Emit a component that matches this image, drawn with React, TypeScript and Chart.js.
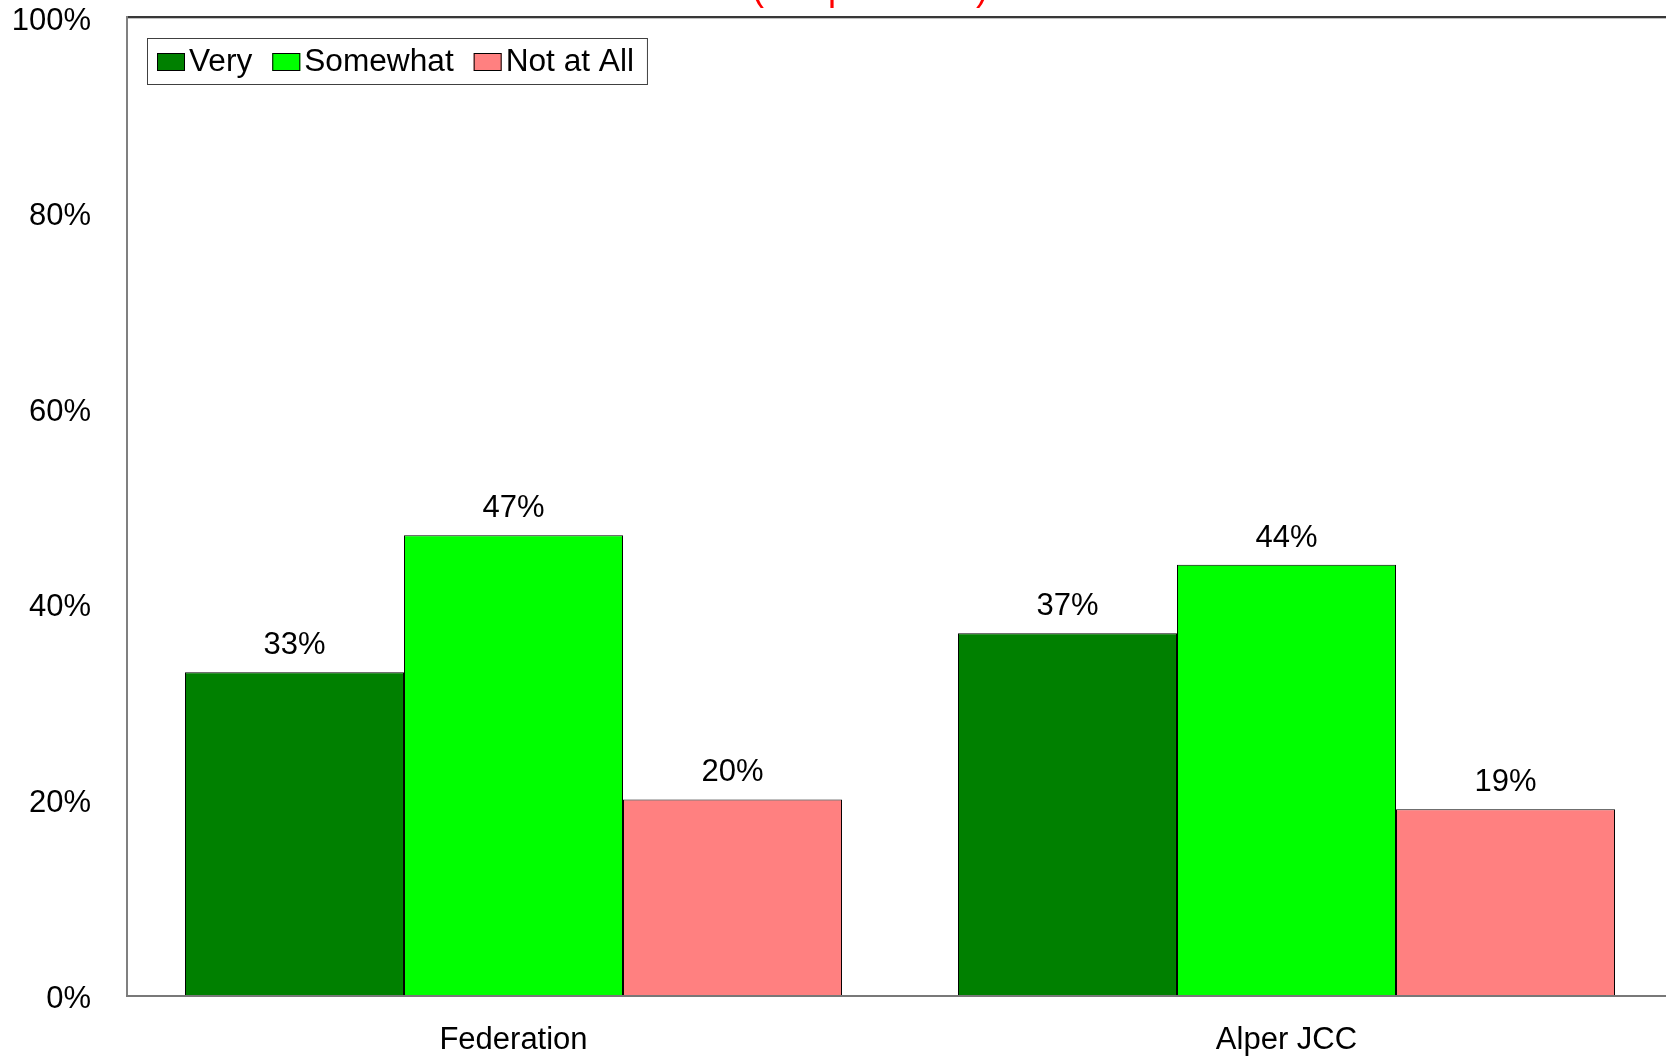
import React, { useEffect, useRef } from "react";
import { Chart, registerables } from "chart.js";

Chart.register(...registerables);

// ---- data ----
const categories = ["Federation", "Alper JCC"];
const seriesNames = ["Very", "Somewhat", "Not at All"];
const veryValues = [33, 37];
const somewhatValues = [47, 44];
const notAtAllValues = [20, 19];
const seriesColors = ["#008000", "#00FF00", "#FF8080"];
const yTickMin = 0;
const yTickMax = 100;
const yTickStep = 20;
const titleText = "(Respondents)";

const FONT = "'Liberation Sans', Arial, Helvetica, sans-serif";
const CANVAS_W = 1740;
const CANVAS_H = 1056;

const framePlugin = {
  id: "frame",
  afterDatasetsDraw(chart: any) {
    const { ctx, chartArea: a } = chart;
    ctx.save();
    // top border
    ctx.fillStyle = "#383838";
    ctx.fillRect(a.left - 1, a.top - 1, a.right - a.left + 1, 2);
    ctx.fillStyle = "#c0c0c0";
    ctx.fillRect(a.left + 1, a.top + 1, a.right - a.left, 1);
    // left border
    ctx.fillStyle = "#808080";
    ctx.fillRect(a.left - 1, a.top - 1, 2, a.bottom - a.top + 3);
    // bottom axis
    ctx.fillStyle = "#787878";
    ctx.fillRect(a.left - 1, a.bottom, a.right - a.left + 1, 2);
    ctx.restore();
  },
};

const labelPlugin = {
  id: "valueLabels",
  afterDatasetsDraw(chart: any) {
    const { ctx } = chart;
    ctx.save();
    ctx.font = `31px ${FONT}`;
    ctx.fillStyle = "#000000";
    ctx.textAlign = "center";
    ctx.textBaseline = "alphabetic";
    chart.data.datasets.forEach((ds: any, i: number) => {
      const meta = chart.getDatasetMeta(i);
      meta.data.forEach((el: any, j: number) => {
        ctx.fillText(`${ds.data[j]}%`, el.x, el.y - 18);
      });
    });
    ctx.restore();
  },
};

const LEGEND_XSCALE = 1.02;

const legendPlugin = {
  id: "boxLegend",
  afterDraw(chart: any) {
    const { ctx, chartArea: a } = chart;
    const x0 = a.left + 20;
    const y0 = a.top + 21;
    const boxH = 46;
    const sw = 28;
    const sh = 18;
    ctx.save();
    ctx.font = `31px ${FONT}`;
    const items = chart.data.datasets.map((ds: any) => ({
      label: ds.label,
      color: ds.backgroundColor,
      w: ctx.measureText(ds.label).width * LEGEND_XSCALE,
    }));
    let total = 10 + 13;
    items.forEach((it: any, i: number) => {
      total += sw + 4 + it.w + (i < items.length - 1 ? 20 : 0);
    });
    ctx.fillStyle = "#ffffff";
    ctx.fillRect(x0, y0, total, boxH);
    ctx.strokeStyle = "#404040";
    ctx.lineWidth = 1;
    ctx.strokeRect(x0 + 0.5, y0 + 0.5, total, boxH);
    let x = x0 + 10;
    items.forEach((it: any) => {
      ctx.fillStyle = it.color;
      ctx.fillRect(x, y0 + 15, sw, sh);
      ctx.strokeStyle = "#000000";
      ctx.strokeRect(x + 0.5, y0 + 15.5, sw - 1, sh - 1);
      x += sw + 4;
      ctx.save();
      ctx.translate(x, y0 + 33);
      ctx.scale(LEGEND_XSCALE, 1);
      ctx.fillStyle = "#000000";
      ctx.textAlign = "left";
      ctx.textBaseline = "alphabetic";
      ctx.fillText(it.label, 0, 0);
      ctx.restore();
      x += it.w + 20;
    });
    ctx.restore();
  },
};

const titlePlugin = {
  id: "clippedTitle",
  afterDraw(chart: any) {
    const { ctx } = chart;
    ctx.save();
    ctx.font = `36px ${FONT}`;
    ctx.fillStyle = "#FF0000";
    ctx.textAlign = "center";
    ctx.textBaseline = "alphabetic";
    ctx.fillText(titleText, 870, 0);
    ctx.restore();
  },
};

export default function App() {
  const ref = useRef<HTMLCanvasElement | null>(null);

  useEffect(() => {
    if (!ref.current) return;
    const values = [veryValues, somewhatValues, notAtAllValues];
    const chart = new Chart(ref.current, {
      type: "bar",
      data: {
        labels: categories,
        datasets: seriesNames.map((name, i) => ({
          label: name,
          data: values[i],
          backgroundColor: seriesColors[i],
          borderColor: "#000000",
          borderWidth: 1,
          categoryPercentage: 0.85,
          barPercentage: 1.0,
        })),
      },
      options: {
        responsive: false,
        animation: false,
        devicePixelRatio: 1,
        layout: { padding: { top: 17, left: 0, right: 67, bottom: 0 } },
        plugins: {
          legend: { display: false },
          title: { display: false },
          tooltip: { enabled: false },
        },
        scales: {
          x: {
            grid: { display: false, drawTicks: false },
            border: { display: false },
            ticks: {
              color: "#000000",
              padding: 29.5,
              font: { family: FONT, size: 31, lineHeight: 1 },
            },
            afterFit: (s: any) => {
              s.height = 61;
              s.paddingLeft = 0;
              s.paddingRight = 0;
            },
          },
          y: {
            min: yTickMin,
            max: yTickMax,
            grid: { display: false, drawTicks: false },
            border: { display: false },
            ticks: {
              stepSize: yTickStep,
              color: "#000000",
              padding: 36,
              labelOffset: 4,
              font: { family: FONT, size: 31, lineHeight: 1 },
              callback: (v: any) => `${v}%`,
            },
            afterFit: (s: any) => {
              s.width = 127;
              s.paddingTop = 0;
              s.paddingBottom = 0;
            },
          },
        },
      },
      plugins: [framePlugin, labelPlugin, legendPlugin, titlePlugin],
    });
    return () => chart.destroy();
  }, []);

  return (
    <div
      style={{
        position: "fixed",
        left: 0,
        top: 0,
        width: "100vw",
        height: "100vh",
        overflow: "hidden",
        background: "#ffffff",
      }}
    >
      <canvas
        ref={ref}
        width={CANVAS_W}
        height={CANVAS_H}
        style={{ position: "absolute", left: 0, top: 0, width: CANVAS_W, height: CANVAS_H }}
      />
    </div>
  );
}
